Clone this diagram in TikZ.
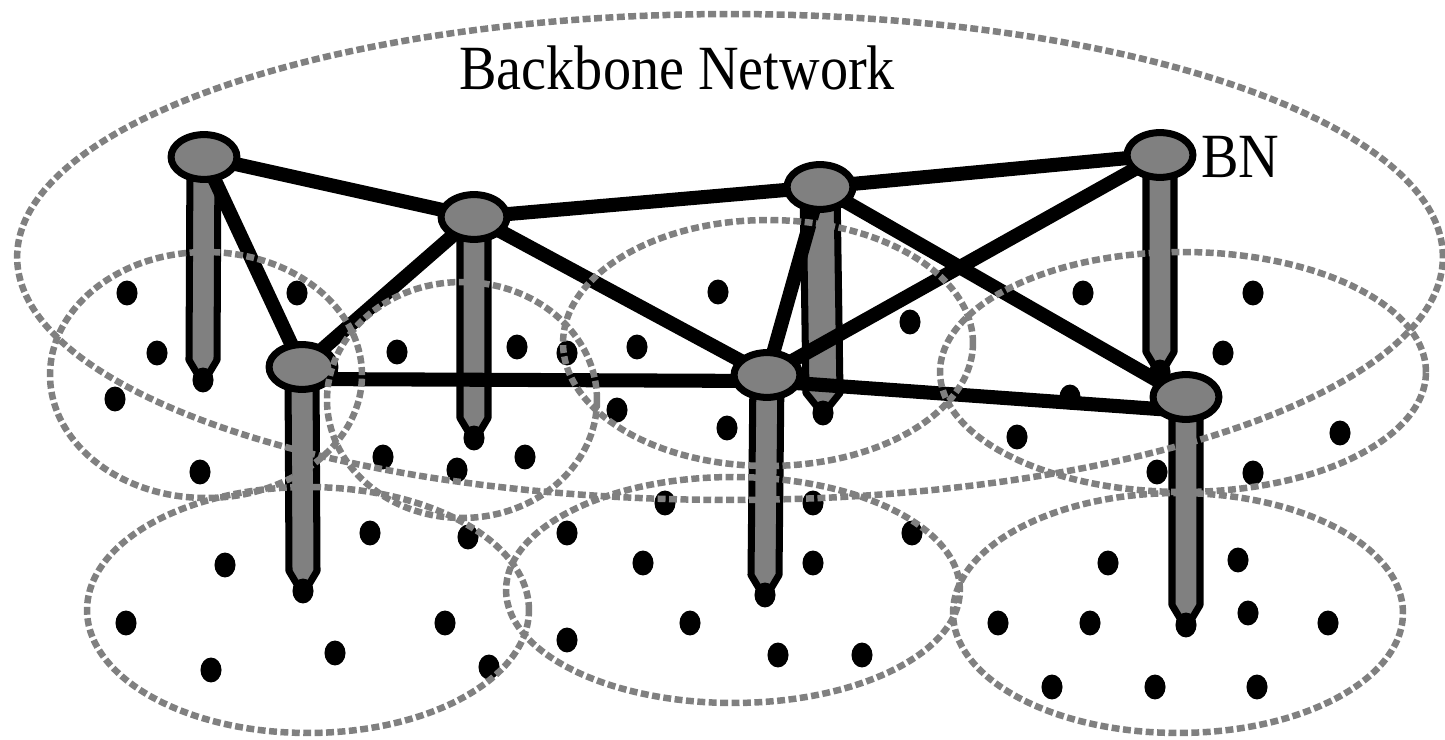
\documentclass[tikz,border=0pt]{standalone}
\usepackage{fontspec}
\setmainfont{Liberation Serif}
\usetikzlibrary{shapes.geometric,calc}
\definecolor{netgray}{RGB}{128,128,128}
\pgfdeclarelayer{paper}
\pgfdeclarelayer{poles}
\pgfdeclarelayer{tips}
\pgfdeclarelayer{links}
\pgfdeclarelayer{over}
\pgfsetlayers{paper,poles,tips,links,main,over}
% pole from a backbone node down to its cluster head: #1 BN node, #2 tip node, #3 half width
\newcommand\polebar[3]{%
  \draw[polebar] ($(#1.center)+(-#3,0)$) -- ($(#2.center)+(-#3,-20)$) -- ($(#2.center)+(-5,-5)$)
    -- ($(#2.center)+(5,-5)$) -- ($(#2.center)+(#3,-20)$) -- ($(#1.center)+(#3,0)$) -- cycle;}
\begin{document}
\begin{tikzpicture}[x=0.02cm,y=-0.02cm,
  cluster/.style={draw=netgray,line width=3.7pt,dash pattern=on 4.5pt off 2pt},
  bnode/.style={ellipse,draw=black,fill=netgray,line width=4pt,minimum width=37.5pt,minimum height=25.5pt,inner sep=0pt},
  host/.style={ellipse,fill=black,minimum width=12pt,minimum height=14.2pt,inner sep=0pt},
  link/.style={draw=black,line width=8pt},
  polebar/.style={draw=black,fill=netgray,line width=4pt,line join=round},
  lbl/.style={inner sep=0pt,anchor=base west,font=\fontsize{32}{36}\selectfont}
]
\begin{pgfonlayer}{paper}
  \fill[white] (0,0) rectangle (1445,740);
\end{pgfonlayer}
\useasboundingbox (0,0) rectangle (1445,740);

% backbone nodes
\node[bnode] (bn1) at (204,157) {};
\node[bnode] (bn2) at (474,217) {};
\node[bnode] (bn3) at (820,187) {};
\node[bnode] (bn4) at (1160,155) {};
\node[bnode] (bn5) at (302,367) {};
\node[bnode] (bn6) at (767,375) {};
\node[bnode] (bn7) at (1186,397) {};

% cluster heads at the pole tips and ordinary hosts
\begin{pgfonlayer}{tips}
  \node[host] (t1) at (203,380) {};
  \node[host] (t2) at (474,438) {};
  \node[host] (t3) at (823,413) {};
  \node[host] (t4) at (1160,372) {};
  \node[host] (t5) at (303,591) {};
  \node[host] (t6) at (765,595) {};
  \node[host] (t7) at (1186,625) {};
  \foreach \x/\y [count=\i] in {
    127/293, 297/293, 157/353, 115/399, 200/472, 397/352, 383/457, 457/470,
    517/347, 567/353, 637/347, 617/410, 525/457,
    718/292, 910/322, 727/428,
    1083/293, 1253/293, 1223/353, 1070/397, 1017/437, 1157/472, 1253/473, 1340/433,
    370/533, 225/565, 126/623, 211/670, 335/653, 445/623, 489/667, 468/537,
    567/533, 643/563, 813/563, 912/533, 690/623, 567/640, 778/655, 862/655, 665/503, 813/503,
    1108/563, 1238/560, 998/623, 1090/623, 1248/613, 1328/623, 1052/687, 1155/687, 1257/687}
    \node[host] (h\i) at (\x,\y) {};
\end{pgfonlayer}

% poles
\begin{pgfonlayer}{poles}
  \polebar{bn1}{t1}{14}
  \polebar{bn2}{t2}{14}
  \polebar{bn3}{t3}{17}
  \polebar{bn4}{t4}{14}
  \polebar{bn5}{t5}{14}
  \polebar{bn6}{t6}{14}
  \polebar{bn7}{t7}{14}
\end{pgfonlayer}

% backbone links
\begin{pgfonlayer}{links}
  \draw[link] (bn1.center) -- (bn2.center);
  \draw[link] (bn1.center) -- (bn5.center);
  \draw[link] (bn2.center) -- (bn3.center);
  \draw[link] (bn2.center) -- (bn5.center);
  \draw[link] (bn2.center) -- (bn6.center);
  \draw[link] (bn3.center) -- (bn4.center);
  \draw[link] (bn3.center) -- (bn6.center);
  \draw[link] (bn3.center) -- (bn7.center);
  \draw[link] (bn4.center) -- (bn6.center);
  \draw[link] ($(bn5.center)+(0,12)$) -- ($(bn6.center)+(0,6)$);
  \draw[link] ($(bn6.center)+(0,6)$) -- ($(bn7.center)+(0,14)$);
\end{pgfonlayer}

% cluster ellipses and labels
\begin{pgfonlayer}{over}
  \draw[cluster] (730,257) ellipse [x radius=14.26cm, y radius=4.86cm];
  \draw[cluster] (206,375) ellipse [x radius=3.12cm, y radius=2.46cm];
  \draw[cluster] (462,400) ellipse [x radius=2.70cm, y radius=2.36cm];
  \draw[cluster] (768,343) ellipse [x radius=4.10cm, y radius=2.46cm];
  \draw[cluster] (1183,372) ellipse [x radius=4.86cm, y radius=2.40cm];
  \draw[cluster] (308,610) ellipse [x radius=4.42cm, y radius=2.46cm];
  \draw[cluster] (733,590) ellipse [x radius=4.54cm, y radius=2.26cm];
  \draw[cluster] (1178,613) ellipse [x radius=4.50cm, y radius=2.40cm];
  \node[lbl] (title) at (459,90) {\scalebox{1}[1.12]{Backbone Network}};
  \node[lbl] (bnlabel) at (1201,177) {\scalebox{1}[1.12]{BN}};
\end{pgfonlayer}
\end{tikzpicture}
\end{document}
